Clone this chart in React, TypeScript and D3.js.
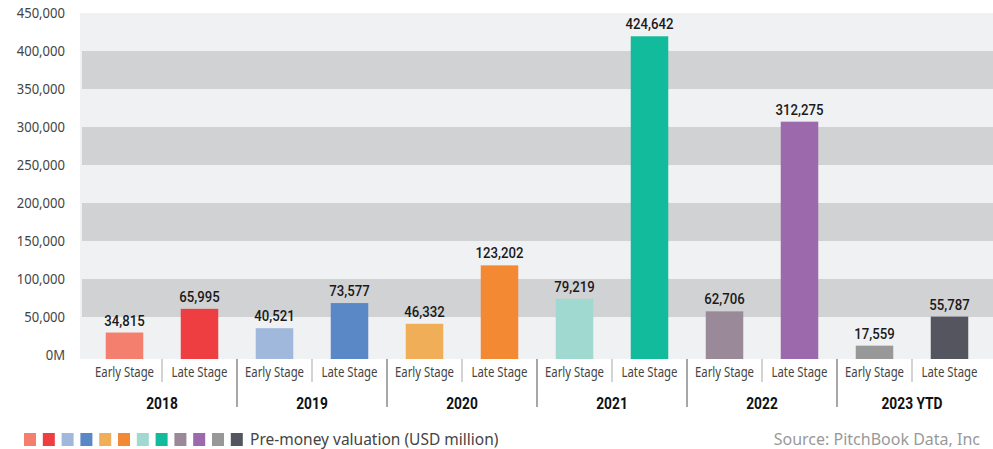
import React from "react";
import * as d3 from "d3";

const years = ["2018", "2019", "2020", "2021", "2022", "2023 YTD"];
const stages = ["Early Stage", "Late Stage"];
const earlyValues = [34815, 40521, 46332, 79219, 62706, 17559];
const lateValues = [65995, 73577, 123202, 424642, 312275, 55787];
const earlyColors = ["#F47F6E", "#A0B8DC", "#F1AE58", "#A0D9CF", "#9A8A99", "#989898"];
const lateColors = ["#EF3E42", "#5A87C5", "#F48934", "#12BB9C", "#9B69AC", "#55555F"];
const yTicks = [0, 50000, 100000, 150000, 200000, 250000, 300000, 350000, 400000, 450000];
const legendLabel = "Pre-money valuation (USD million)";
const sourceLabel = "Source: PitchBook Data, Inc";

const W = 993;
const H = 449;
const numFont = "Roboto, 'Noto Sans', sans-serif";
const textFont = "'Noto Sans', 'Open Sans', sans-serif";

export default function App() {
  const rows = years.flatMap((y, i) => [
    { key: `${y}-e`, year: y, stage: stages[0], value: earlyValues[i], color: earlyColors[i] },
    { key: `${y}-l`, year: y, stage: stages[1], value: lateValues[i], color: lateColors[i] },
  ]);

  const x = d3
    .scaleBand<string>()
    .domain(rows.map((r) => r.key))
    .range([87, 987])
    .paddingInner(0.5)
    .paddingOuter(0.25);
  const xGroup = d3.scaleBand<string>().domain(years).range([87, 987]);
  const yBar = d3.scaleLinear().domain([0, 450000]).range([359, 17]);
  const yGrid = d3.scaleLinear().domain([0, 450000]).range([355, 13]);

  const fmt = d3.format(",");
  const tickFmt = (v: number) => (v === 0 ? "0M" : fmt(v));

  const bands = yTicks.slice(0, -1).map((t, i) => ({ lo: t, hi: yTicks[i + 1], dark: i % 2 === 1 }));

  const legendColors = years.flatMap((_, i) => [earlyColors[i], lateColors[i]]);

  return (
    <svg width={W} height={H} style={{ position: "absolute", left: 0, top: 0 }}>
      <rect x={80} y={yGrid(450000)} width={W - 80} height={359 - yGrid(450000)} fill="#F0F1F3" />
      {bands.filter((b) => b.dark).map((b) => (
        <rect key={b.lo} x={82} y={yGrid(b.hi)} width={W - 82} height={yGrid(b.lo) - yGrid(b.hi)} fill="#D1D2D4" />
      ))}
      {yTicks.map((t) => (
        <g key={t} transform={`translate(65,${yGrid(t)}) scale(0.9,1)`}>
          <text dy="0.35em" textAnchor="end" fontFamily={textFont} fontSize={14.5} fill="#444">
            {tickFmt(t)}
          </text>
        </g>
      ))}
      {rows.map((r) => {
        const cx = (x(r.key) as number) + x.bandwidth() / 2;
        return (
          <g key={r.key}>
            <rect x={x(r.key)} y={yBar(r.value)} width={x.bandwidth()} height={yBar(0) - yBar(r.value)} fill={r.color} />
            <g transform={`translate(${cx},${yBar(r.value) - 7}) scale(0.88,1)`}>
              <text textAnchor="middle" fontFamily={numFont} fontSize={15} fontWeight={500} fill="#1a1a1a">
                {fmt(r.value)}
              </text>
            </g>
            <text
              x={cx - (r.stage === stages[0] ? 29.5 : 28)}
              y={377}
              textLength={r.stage === stages[0] ? 59 : 56}
              lengthAdjust="spacingAndGlyphs"
              fontFamily={textFont}
              fontSize={14}
              fill="#444"
            >
              {r.stage}
            </text>
          </g>
        );
      })}
      {years.map((y, i) => {
        const gx = xGroup(y) as number;
        const mid = gx + xGroup.bandwidth() / 2;
        return (
          <g key={y}>
            <line x1={mid} x2={mid} y1={359} y2={382} stroke="#C4C4C4" strokeWidth={1.5} />
            {i > 0 && <line x1={gx} x2={gx} y1={359} y2={407} stroke="#8A8A8A" strokeWidth={1.5} />}
            <g transform={`translate(${mid},409) scale(0.86,1)`}>
              <text textAnchor="middle" fontFamily={numFont} fontSize={16} fontWeight={700} fill="#111">
                {y}
              </text>
            </g>
          </g>
        );
      })}
      {legendColors.map((c, i) => (
        <rect key={i} x={24 + i * 18.8} y={433} width={12} height={13} fill={c} />
      ))}
      <text x={250} y={444.5} fontFamily={textFont} fontSize={15.5} fill="#444">
        {legendLabel}
      </text>
      <text x={980} y={444.5} textAnchor="end" fontFamily={textFont} fontSize={16} fill="#999">
        {sourceLabel}
      </text>
    </svg>
  );
}
